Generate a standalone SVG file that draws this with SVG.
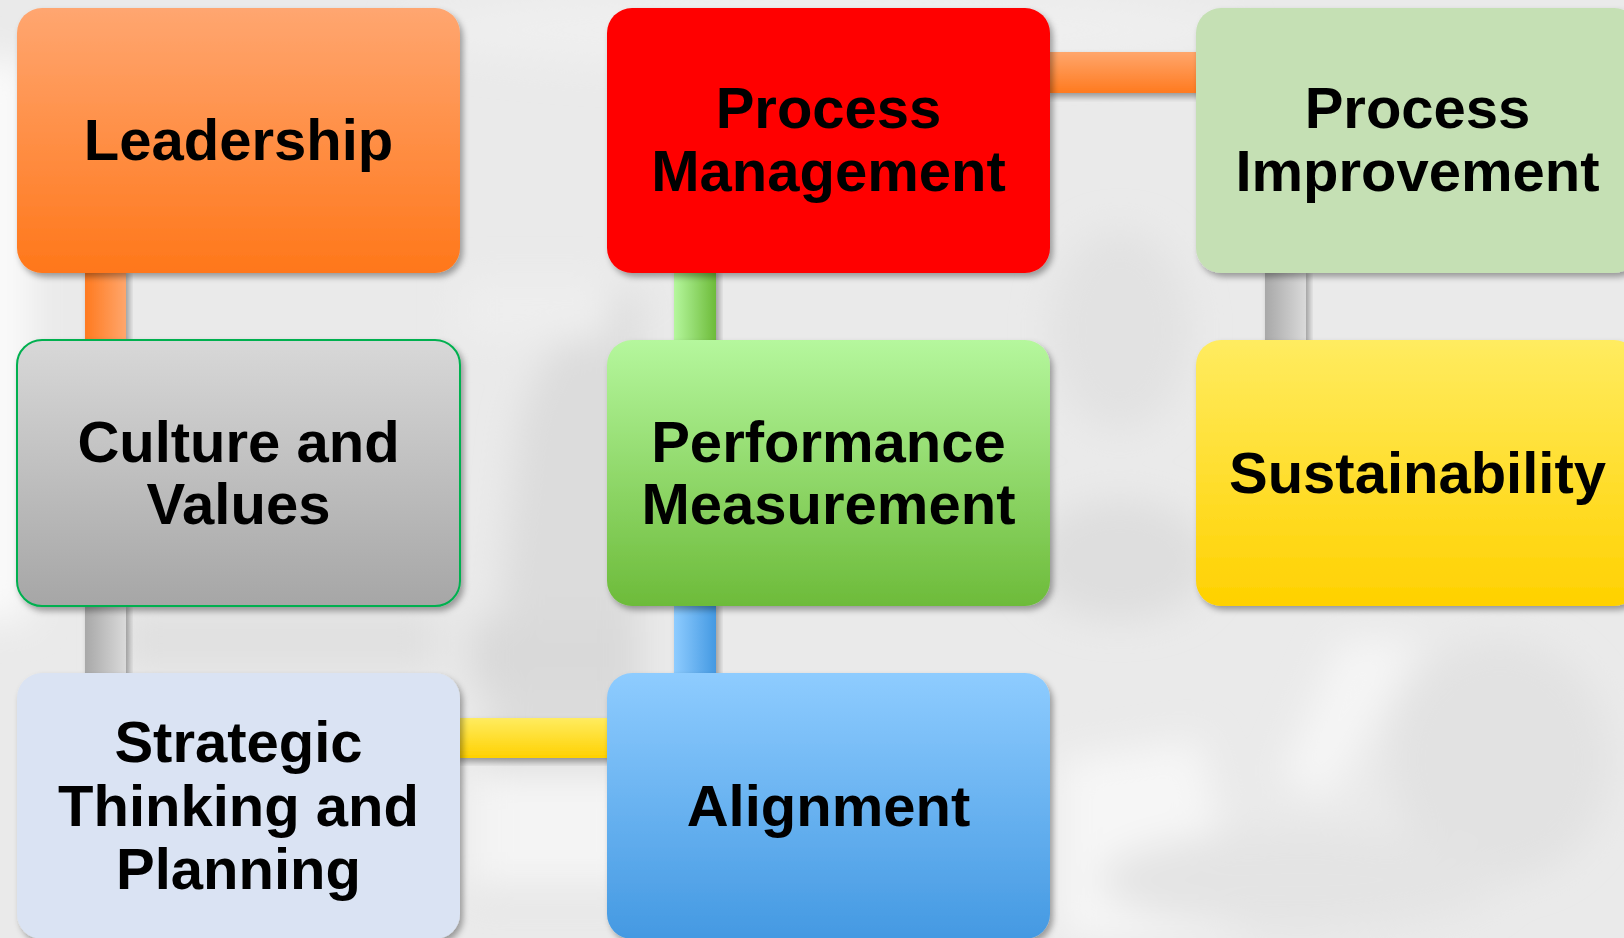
<svg xmlns="http://www.w3.org/2000/svg" width="1624" height="938" viewBox="0 0 1624 938">
  <defs>
    <filter id="shadow" x="-10%" y="-10%" width="125%" height="130%">
      <feDropShadow dx="3" dy="4" stdDeviation="3" flood-color="#000" flood-opacity="0.35"/>
    </filter>
    <filter id="haze" x="-20%" y="-20%" width="140%" height="140%">
      <feGaussianBlur stdDeviation="18"/>
    </filter>
    <linearGradient id="gOrange" x1="0" y1="0" x2="0" y2="1">
      <stop offset="0" stop-color="#FFA670"/>
      <stop offset="1" stop-color="#FF771A"/>
    </linearGradient>
    <linearGradient id="gGray" x1="0" y1="0" x2="0" y2="1">
      <stop offset="0" stop-color="#D8D8D8"/>
      <stop offset="1" stop-color="#A6A6A6"/>
    </linearGradient>
    <linearGradient id="gGreen" x1="0" y1="0" x2="0" y2="1">
      <stop offset="0" stop-color="#B5F79D"/>
      <stop offset="1" stop-color="#6DBB3A"/>
    </linearGradient>
    <linearGradient id="gYellow" x1="0" y1="0" x2="0" y2="1">
      <stop offset="0" stop-color="#FFEC60"/>
      <stop offset="1" stop-color="#FFD100"/>
    </linearGradient>
    <linearGradient id="gBlue" x1="0" y1="0" x2="0" y2="1">
      <stop offset="0" stop-color="#8ECCFF"/>
      <stop offset="1" stop-color="#4499E2"/>
    </linearGradient>
    <!-- bar fills -->
    <linearGradient id="bOrangeV" x1="0" y1="0" x2="1" y2="0">
      <stop offset="0" stop-color="#FF7A1F"/>
      <stop offset="1" stop-color="#FFA66C"/>
    </linearGradient>
    <linearGradient id="bOrangeH" x1="0" y1="0" x2="0" y2="1">
      <stop offset="0" stop-color="#FFA66C"/>
      <stop offset="1" stop-color="#FF7A1F"/>
    </linearGradient>
    <linearGradient id="bGreenV" x1="0" y1="0" x2="1" y2="0">
      <stop offset="0" stop-color="#B5F79D"/>
      <stop offset="1" stop-color="#6DBB3A"/>
    </linearGradient>
    <linearGradient id="bGrayV" x1="0" y1="0" x2="1" y2="0">
      <stop offset="0" stop-color="#A8A8A8"/>
      <stop offset="1" stop-color="#DADADA"/>
    </linearGradient>
    <linearGradient id="bYellowH" x1="0" y1="0" x2="0" y2="1">
      <stop offset="0" stop-color="#FFEC60"/>
      <stop offset="1" stop-color="#FFD100"/>
    </linearGradient>
    <linearGradient id="bBlueV" x1="0" y1="0" x2="1" y2="0">
      <stop offset="0" stop-color="#8ECCFF"/>
      <stop offset="1" stop-color="#4499E2"/>
    </linearGradient>
  </defs>
  <style>
    .box { filter: url(#shadow); }
    .bar { filter: url(#shadow); }
    .lbl { font-family: "Liberation Sans", Arial, sans-serif; font-weight: bold; font-size: 58px; fill: #000; text-anchor: middle; }
  </style>

  <!-- faded photographic backdrop -->
  <g id="backdrop">
    <rect x="0" y="0" width="1624" height="938" fill="#EAEAEA"/>
    <g filter="url(#haze)">
      <rect x="-40" y="60" width="70" height="560" fill="#FAFAFA"/>
      <path d="M470 900 L520 420 Q560 300 640 290 L640 900 Z" fill="#DCDCDC"/>
      <rect x="470" y="620" width="170" height="70" fill="#D9D9D9"/>
      <rect x="470" y="770" width="170" height="120" fill="#F4F4F4"/>
      <ellipse cx="1120" cy="330" rx="70" ry="100" fill="#E2E2E2"/>
      <ellipse cx="1120" cy="560" rx="90" ry="60" fill="#DEDEDE"/>
      <path d="M1060 760 L1200 740 L1240 938 L1060 938 Z" fill="#F6F6F6"/>
      <path d="M1340 640 L1420 640 L1330 800 L1280 780 Z" fill="#F5F5F5"/>
      <ellipse cx="1500" cy="760" rx="110" ry="120" fill="#E2E2E2"/>
      <ellipse cx="1300" cy="880" rx="200" ry="50" fill="#E4E4E4"/>
      <rect x="120" y="610" width="320" height="60" fill="#E0E0E0"/>
      <ellipse cx="820" cy="30" rx="420" ry="40" fill="#EFEFEF"/>
      <rect x="460" y="280" width="150" height="60" fill="#EEEEEE"/>
    </g>
  </g>

  <!-- connector bars between the boxes -->
  <g id="connectors">
    <rect class="bar" x="85" y="268" width="41" height="76" fill="url(#bOrangeV)"/>
    <rect class="bar" x="85" y="602" width="41" height="75" fill="url(#bGrayV)"/>
    <rect class="bar" x="455" y="718" width="156" height="40" fill="url(#bYellowH)"/>
    <rect class="bar" x="674" y="268" width="42" height="76" fill="url(#bGreenV)"/>
    <rect class="bar" x="674" y="602" width="42" height="75" fill="url(#bBlueV)"/>
    <rect class="bar" x="1045" y="52" width="155" height="41" fill="url(#bOrangeH)"/>
    <rect class="bar" x="1265" y="268" width="41" height="76" fill="url(#bGrayV)"/>
  </g>

  <g id="leadership">
    <rect class="box" x="17" y="8" width="443" height="265" rx="25" fill="url(#gOrange)"/>
    <text class="lbl" x="238.5" y="160">Leadership</text>
  </g>

  <g id="culture">
    <rect class="box" x="17" y="340" width="443" height="266" rx="25" fill="url(#gGray)" stroke="#00B050" stroke-width="2"/>
    <text class="lbl" x="238.5" y="462">Culture and</text>
    <text class="lbl" x="238.5" y="524">Values</text>
  </g>

  <g id="strategic">
    <rect class="box" x="17" y="673" width="443" height="266" rx="25" fill="#DAE3F3"/>
    <text class="lbl" x="238.5" y="762">Strategic</text>
    <text class="lbl" x="238.5" y="826">Thinking and</text>
    <text class="lbl" x="238.5" y="889">Planning</text>
  </g>

  <g id="process-management">
    <rect class="box" x="607" y="8" width="443" height="265" rx="25" fill="#FF0000"/>
    <text class="lbl" x="828.5" y="128">Process</text>
    <text class="lbl" x="828.5" y="191">Management</text>
  </g>

  <g id="performance">
    <rect class="box" x="607" y="340" width="443" height="266" rx="25" fill="url(#gGreen)"/>
    <text class="lbl" x="828.5" y="462">Performance</text>
    <text class="lbl" x="828.5" y="524">Measurement</text>
  </g>

  <g id="alignment">
    <rect class="box" x="607" y="673" width="443" height="266" rx="25" fill="url(#gBlue)"/>
    <text class="lbl" x="828.5" y="826">Alignment</text>
  </g>

  <g id="process-improvement">
    <rect class="box" x="1196" y="8" width="443" height="265" rx="25" fill="#C5E0B4"/>
    <text class="lbl" x="1417.5" y="128">Process</text>
    <text class="lbl" x="1417.5" y="191">Improvement</text>
  </g>

  <g id="sustainability">
    <rect class="box" x="1196" y="340" width="443" height="266" rx="25" fill="url(#gYellow)"/>
    <text class="lbl" x="1417.5" y="493">Sustainability</text>
  </g>
</svg>
